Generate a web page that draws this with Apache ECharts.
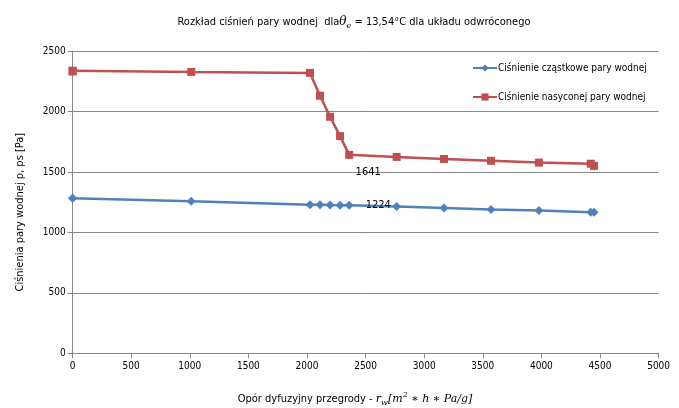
<!DOCTYPE html>
<html>
<head>
<meta charset="utf-8">
<script src="https://cdn.jsdelivr.net/npm/echarts@6/dist/echarts.min.js"></script>
<style>html,body{margin:0;padding:0;background:#fff}#c{width:679px;height:408px}</style>
</head>
<body>
<div id="c"></div>
<script>
// Data
var diffusionResistance = [0, 0, 1012, 2026, 2111, 2197, 2282, 2360, 2765, 3169, 3570, 3979, 4421, 4449];
var partialPressure = [1282, 1282, 1258, 1229, 1228, 1226, 1225, 1224, 1213, 1202, 1189, 1180, 1167, 1166];
var saturationPressure = [2337, 2330, 2327, 2319, 2130, 1956, 1796, 1641, 1624, 1607, 1592, 1577, 1568, 1550];
var labelIndex = 7;
var seriesNames = ['Ciśnienie cząstkowe pary wodnej', 'Ciśnienie nasyconej pary wodnej'];
var xTicks = {min: 0, max: 5000, interval: 500};
var yTicks = {min: 0, max: 2500, interval: 500};

var FONT = '"Liberation Sans Narrow", "DejaVu Sans Condensed", "Liberation Sans", sans-serif';
var MATH = '"DejaVu Serif", "Liberation Serif", serif';

function pairs(vals, labelOpt) {
  return diffusionResistance.map(function (x, i) {
    var item = {value: [x, vals[i]]};
    if (i === labelIndex) item.label = labelOpt;
    return item;
  });
}
function plain(v) { return String(v); }

var chart = echarts.init(document.getElementById('c'));
chart.setOption({
  animation: false,
  backgroundColor: '#fff',
  textStyle: {fontFamily: FONT},
  title: [{
    left: 349, top: 9, textAlign: 'center',
    text: '{a|Rozkład ciśnień pary wodnej  dla}{m|θ}{s|e}{a| = 13,54°C dla układu odwróconego}',
    textStyle: {
      fontWeight: 'normal',
      rich: {
        a: {fontFamily: FONT, fontWeight: 'normal', fontSize: 11, color: '#000', lineHeight: 16},
        m: {fontFamily: MATH, fontWeight: 'normal', fontStyle: 'italic', fontSize: 12, color: '#000', lineHeight: 16},
        s: {fontFamily: MATH, fontWeight: 'normal', fontStyle: 'italic', fontSize: 8, color: '#000', lineHeight: 8, verticalAlign: 'bottom'}
      }
    }
  }, {
    left: 350, top: 386, textAlign: 'center',
    text: '{a|Opór dyfuzyjny przegrody - }{m|r}{s|w}{m|[m}{p|2}{m| ∗ h ∗ Pa/g]}',
    textStyle: {
      fontWeight: 'normal',
      rich: {
        a: {fontFamily: FONT, fontWeight: 'normal', fontSize: 11, color: '#000', lineHeight: 16},
        m: {fontFamily: MATH, fontWeight: 'normal', fontStyle: 'italic', fontSize: 11, color: '#000', lineHeight: 16},
        s: {fontFamily: MATH, fontWeight: 'normal', fontStyle: 'italic', fontSize: 8, color: '#000', lineHeight: 8, verticalAlign: 'bottom'},
        p: {fontFamily: MATH, fontWeight: 'normal', fontStyle: 'italic', fontSize: 8, color: '#000', lineHeight: 8, verticalAlign: 'top'}
      }
    }
  }],
  legend: {
    orient: 'vertical',
    left: 467, top: 58,
    itemWidth: 24, itemHeight: 9, itemGap: 19,
    textStyle: {fontFamily: FONT, fontSize: 10, color: '#000', padding: [0, 0, 0, -4]},
    data: seriesNames
  },
  grid: {left: 72.6, right: 20.4, top: 51, bottom: 54.7, containLabel: false},
  xAxis: {
    type: 'value', min: xTicks.min, max: xTicks.max, interval: xTicks.interval,
    axisLine: {show: true, lineStyle: {color: '#868686', width: 1}},
    axisTick: {show: true, length: 5, lineStyle: {color: '#868686'}},
    axisLabel: {fontFamily: FONT, fontSize: 10, color: '#000', margin: 8, formatter: plain},
    splitLine: {show: false}
  },
  yAxis: {
    type: 'value', min: yTicks.min, max: yTicks.max, interval: yTicks.interval,
    name: 'Ciśnienia pary wodnej p, ps [Pa]',
    nameLocation: 'middle', nameGap: 47,
    nameTextStyle: {fontFamily: FONT, fontSize: 11, color: '#000', padding: [0, 0, 0, -20]},
    axisLine: {show: true, lineStyle: {color: '#868686', width: 1}},
    axisTick: {show: true, length: 5, lineStyle: {color: '#868686'}},
    axisLabel: {fontFamily: FONT, fontSize: 10, color: '#000', margin: 7, formatter: plain},
    splitLine: {show: true, lineStyle: {color: '#868686', width: 1}}
  },
  series: [{
    name: seriesNames[0], type: 'line',
    data: pairs(partialPressure, {show: true, position: 'right', distance: 12, color: '#000', fontFamily: FONT, fontSize: 11, formatter: function (p) { return String(p.value[1]); }}),
    symbol: 'diamond', symbolSize: 9,
    lineStyle: {color: '#4F81BD', width: 2.5},
    itemStyle: {color: '#4F81BD'}
  }, {
    name: seriesNames[1], type: 'line',
    data: pairs(saturationPressure, {show: true, position: 'bottom', offset: [19, 3], color: '#000', fontFamily: FONT, fontSize: 11, formatter: function (p) { return String(p.value[1]); }}),
    symbol: 'rect', symbolSize: 8,
    lineStyle: {color: '#C0504D', width: 2.5},
    itemStyle: {color: '#C0504D'}
  }]
});
</script>
</body>
</html>
